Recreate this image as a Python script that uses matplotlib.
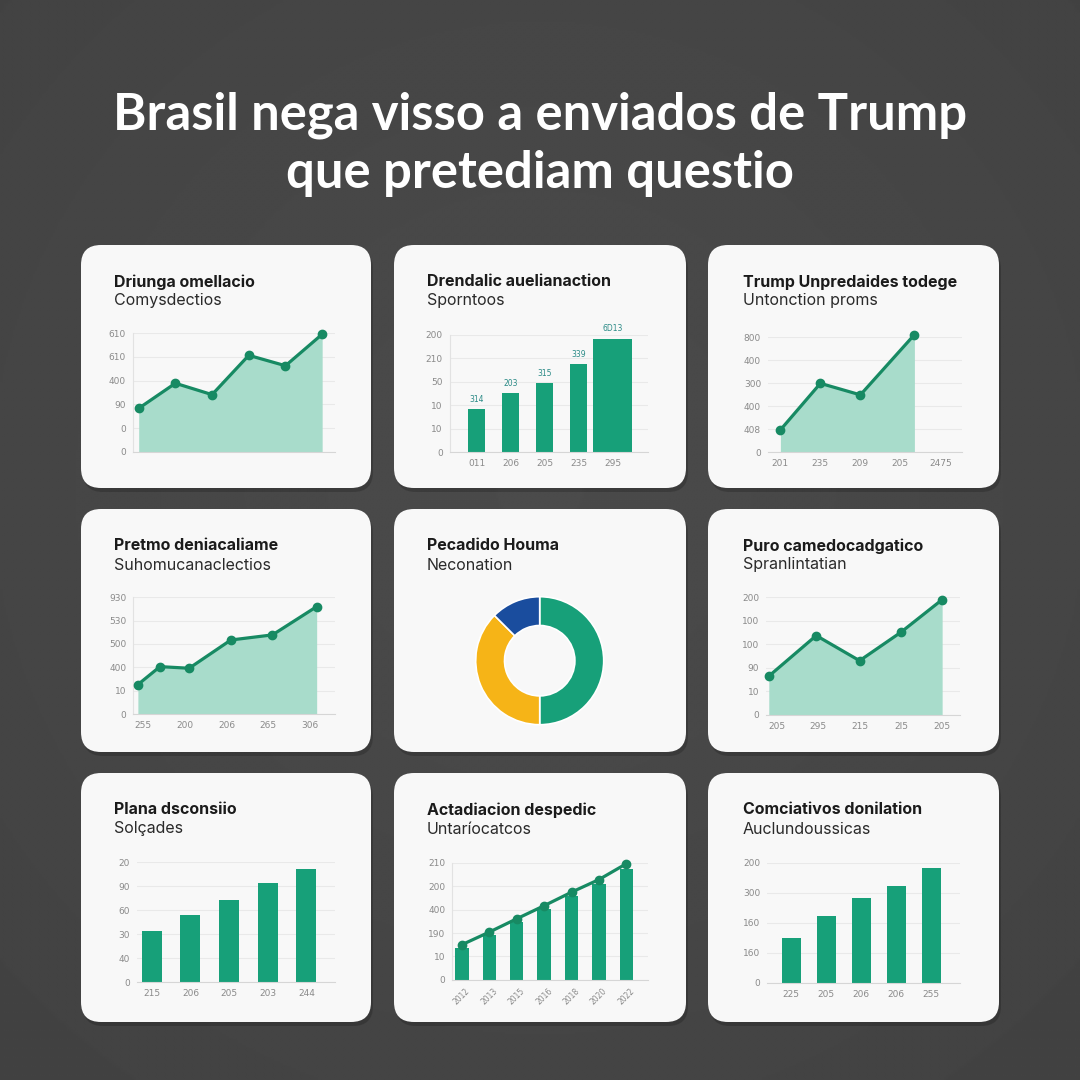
import numpy as np
import matplotlib.pyplot as plt
from matplotlib.patches import FancyBboxPatch

# ---- data ----
title = "Brasil nega visso a enviados de Trump\nque pretediam questio"

card_titles = [
    ("Driunga omellacio", "Comysdectios"),
    ("Drendalic auelianaction", "Sporntoos"),
    ("Trump Unpredaides todege", "Untonction proms"),
    ("Pretmo deniacaliame", "Suhomucanaclectios"),
    ("Pecadido Houma", "Neconation"),
    ("Puro camedocadgatico", "Spranlintatian"),
    ("Plana dsconsiio", "Solçades"),
    ("Actadiacion despedic", "Untaríocatcos"),
    ("Comciativos donilation", "Auclundoussicas"),
]

# panel 1: area line
p1_y = [1.83, 2.89, 2.41, 4.07, 3.63, 4.96]
p1_yticks = ['0', '0', '90', '400', '610', '610']

# panel 2: bars with labels
p2_y = [1.84, 2.52, 2.95, 3.75, 4.83]
p2_vlabels = ['314', '203', '315', '339', '6D13']
p2_xticks = ['011', '206', '205', '235', '295']
p2_yticks = ['0', '10', '10', '50', '210', '200']

# panel 3: area line
p3_x = [0, 1, 2, 3.35]
p3_y = [0.97, 2.99, 2.49, 5.1]
p3_xticks = ['201', '235', '209', '205', '2475']
p3_yticks = ['0', '408', '400', '300', '400', '800']

# panel 4: area line
p4_x = [-0.13, 0.4, 1.1, 2.1, 3.1, 4.16]
p4_y = [1.26, 2.03, 1.96, 3.17, 3.39, 4.6]
p4_xticks = ['255', '200', '206', '265', '306']
p4_yticks = ['0', '10', '400', '500', '530', '930']

# panel 5: donut
p5_shares = [50, 37.5, 12.5]
p5_colors = ['#17a079', '#f6b417', '#1a4d9e']

# panel 6: area line
p6_x = [-0.2, 0.95, 2.0, 3.0, 4.0]
p6_y = [1.64, 3.37, 2.3, 3.51, 4.9]
p6_xticks = ['205', '295', '215', '2I5', '205']
p6_yticks = ['0', '10', '90', '100', '100', '200']

# panel 7: bars
p7_y = [2.15, 2.82, 3.42, 4.15, 4.72]
p7_xticks = ['215', '206', '205', '203', '244']
p7_yticks = ['0', '40', '30', '60', '90', '20']

# panel 8: bars + trend line
p8_bars = [1.36, 1.9, 2.46, 3.03, 3.59, 4.1, 4.76]
p8_line = [1.5, 2.04, 2.61, 3.17, 3.75, 4.29, 4.97]
p8_xticks = ['2012', '2013', '2015', '2016', '2018', '2020', '2022']
p8_yticks = ['0', '10', '190', '400', '200', '210']

# panel 9: bars
p9_y = [1.51, 2.22, 2.82, 3.23, 3.83]
p9_xticks = ['225', '205', '206', '206', '255']
p9_yticks = ['0', '160', '160', '300', '200']

# ---- style ----
W = H = 1080
LINE = '#178a63'
BAR = '#17a079'
FILL = '#a8dccb'
GRID = '#e9e9e9'
TICK = '#8a8a8a'


def px_axes(fig, x0, y0, x1, y1):
    return fig.add_axes([x0 / W, 1 - y1 / H, (x1 - x0) / W, (y1 - y0) / H])


def style(ax, yticks, xticks=None, xlim=None, left=True):
    ax.set_facecolor('none')
    n = len(yticks) - 1
    ax.set_ylim(0, n)
    ax.set_yticks(range(n + 1), yticks)
    ax.grid(axis='y', color=GRID, lw=0.8)
    ax.set_axisbelow(True)
    for s in ['top', 'right']:
        ax.spines[s].set_visible(False)
    ax.spines['bottom'].set_color('#d6d6d6')
    ax.spines['left'].set_color('#e2e2e2')
    ax.spines['left'].set_visible(left)
    ax.tick_params(length=0, labelsize=6.5, colors=TICK, pad=5)
    if xticks:
        ax.set_xticks(range(len(xticks)), xticks)
    else:
        ax.set_xticks([])
    if xlim:
        ax.set_xlim(*xlim)


def area(ax, x, y):
    ax.fill_between(x, y, color=FILL, lw=0, clip_on=False, zorder=2)
    ax.plot(x, y, color=LINE, lw=2.3, marker='o', ms=6, clip_on=False, zorder=3)


fig = plt.figure(figsize=(10.8, 10.8), dpi=100)

# background with soft vignette
bg = fig.add_axes([0, 0, 1, 1])
bg.set_xlim(0, W)
bg.set_ylim(H, 0)
bg.axis('off')
yy, xx = np.mgrid[0:1:600j, 0:1:600j]
r = np.sqrt((xx - 0.5) ** 2 + (yy - 0.45) ** 2) / 0.7
bg.imshow(0.295 - 0.035 * r, cmap='gray', vmin=0, vmax=1,
          extent=(0, W, H, 0), aspect='auto', zorder=0, interpolation='bilinear')

bg.text(540, 144, title, color='white', fontsize=36.5, fontweight='bold',
        family=['Lato', 'DejaVu Sans'], ha='center', va='center',
        linespacing=1.3, zorder=2)

cols = [(81, 371), (394, 686), (708, 999)]
rows = [(245, 488), (509, 752), (773, 1022)]
k = 0
for (y0, y1) in rows:
    for (x0, x1) in cols:
        shadow = FancyBboxPatch((x0 + 2, y0 + 4), x1 - x0, y1 - y0,
                                boxstyle='round,pad=0,rounding_size=20',
                                fc='black', ec='none', alpha=0.18, zorder=1)
        card = FancyBboxPatch((x0, y0), x1 - x0, y1 - y0,
                              boxstyle='round,pad=0,rounding_size=20',
                              fc='#f8f8f8', ec='none', zorder=2)
        bg.add_patch(shadow)
        bg.add_patch(card)
        t, s = card_titles[k]
        tx = x0 + 33 if x0 < 700 else x0 + 35
        bg.text(tx, y0 + 37, t, fontsize=11.5, fontweight='bold', color='#1b1b1b',
                family=['Inter', 'DejaVu Sans'], va='center', zorder=3)
        bg.text(tx, y0 + 56, s, fontsize=11.5, color='#2a2a2a',
                family=['Inter', 'DejaVu Sans'], va='center', zorder=3)
        k += 1

# panel 1
ax = px_axes(fig, 133, 333.3, 335, 451.7)
style(ax, p1_yticks, xlim=(-0.155, 5.35))
area(ax, range(len(p1_y)), p1_y)

# panel 2
ax = px_axes(fig, 449.7, 335, 648, 452.3)
style(ax, p2_yticks, p2_xticks, xlim=(-0.79, 5.04))
bars = ax.bar(range(len(p2_y)), p2_y, width=[0.51, 0.51, 0.51, 0.51, 1.14],
              color=BAR, zorder=2)
ax.bar_label(bars, labels=p2_vlabels, fontsize=5.5, color='#2a8a86', padding=4)

# panel 3
ax = px_axes(fig, 768, 337, 962, 452.3)
style(ax, p3_yticks, p3_xticks, xlim=(-0.31, 4.54), left=False)
area(ax, p3_x, p3_y)

# panel 4
ax = px_axes(fig, 133.3, 597.3, 335, 714)
style(ax, p4_yticks, p4_xticks, xlim=(-0.24, 4.6))
area(ax, p4_x, p4_y)

# panel 5 donut
ax = px_axes(fig, 475.7, 596.7, 603.7, 724.7)
ax.pie(p5_shares, colors=p5_colors, startangle=90, counterclock=False,
       radius=1, wedgeprops=dict(width=0.45, edgecolor='white', linewidth=1.2))
ax.set_xlim(-1, 1)
ax.set_ylim(-1, 1)

# panel 6
ax = px_axes(fig, 766.3, 597.3, 960.3, 714.7)
style(ax, p6_yticks, p6_xticks, xlim=(-0.26, 4.44), left=False)
area(ax, p6_x, p6_y)

# panel 7
ax = px_axes(fig, 136.7, 862.3, 335, 982.3)
style(ax, p7_yticks, p7_xticks, xlim=(-0.39, 4.74), left=False)
ax.bar(range(len(p7_y)), p7_y, width=0.52, color=BAR, zorder=2)

# panel 8
ax = px_axes(fig, 452.3, 863, 648, 979.7)
style(ax, p8_yticks, p8_xticks, xlim=(-0.35, 6.79))
ax.bar(range(len(p8_bars)), p8_bars, width=0.49, color=BAR, zorder=2)
ax.plot(range(len(p8_line)), p8_line, color=LINE, lw=2.3, marker='o', ms=6,
        clip_on=False, zorder=3)
ax.tick_params(axis='x', labelrotation=45, labelsize=5.5)

# panel 9
ax = px_axes(fig, 767, 863, 960.3, 983)
style(ax, p9_yticks, p9_xticks, xlim=(-0.69, 4.83), left=False)
ax.bar(range(len(p9_y)), p9_y, width=0.54, color=BAR, zorder=2)

fig.savefig('out.png', dpi=100)
